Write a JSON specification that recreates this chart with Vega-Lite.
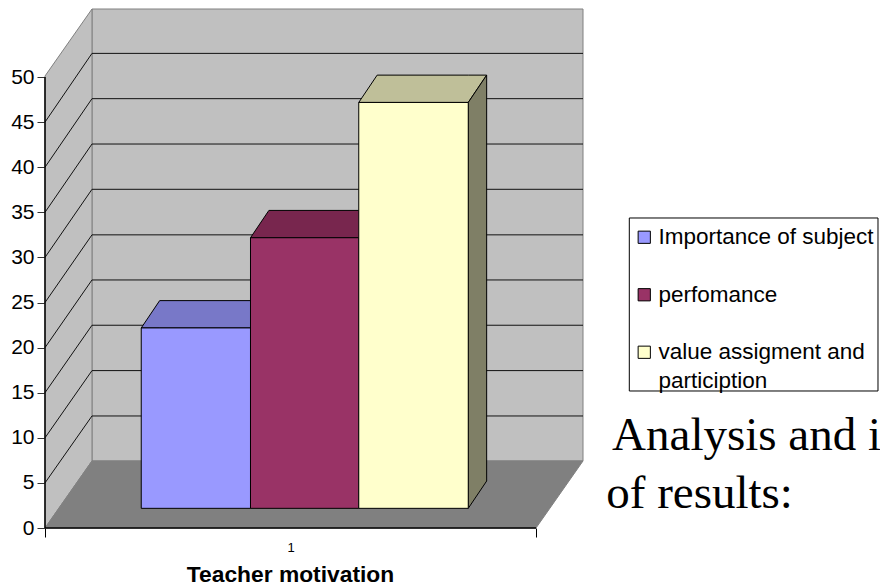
{
"$schema":"https://vega.github.io/schema/vega-lite/v6.json",
"width":538,"height":519,
"autosize":{"type":"none"},
"padding":{"left":45,"top":9,"right":297,"bottom":59},
"background":"white",
"config":{"view":{"stroke":null},"font":"Liberation Sans","style":{"guide-label":{"lineHeight":28.5}}},
"datasets":{
"walls":[
{"face":"Back wall","x":9.57,"y":57.54,"y2":7.43},{"face":"Back wall","x":109.57,"y":57.54,"y2":7.43},
{"face":"Left wall","x":0,"y":50.11,"y2":0},{"face":"Left wall","x":9.57,"y":57.54,"y2":7.43},
{"face":"Floor","x":0,"y":0,"y2":0},{"face":"Floor","x":9.57,"y":7.43,"y2":0},{"face":"Floor","x":100,"y":7.43,"y2":0},{"face":"Floor","x":109.57,"y":7.43,"y2":7.43}
],
"grid":[
{"level":5,"x":0,"y":5},{"level":5,"x":9.57,"y":12.42},{"level":5,"x":109.57,"y":12.42},
{"level":10,"x":0,"y":10},{"level":10,"x":9.57,"y":17.45},{"level":10,"x":109.57,"y":17.45},
{"level":15,"x":0,"y":15},{"level":15,"x":9.57,"y":22.48},{"level":15,"x":109.57,"y":22.48},
{"level":20,"x":0,"y":20},{"level":20,"x":9.57,"y":27.5},{"level":20,"x":109.57,"y":27.5},
{"level":25,"x":0,"y":25},{"level":25,"x":9.57,"y":32.5},{"level":25,"x":109.57,"y":32.5},
{"level":30,"x":0,"y":30},{"level":30,"x":9.57,"y":37.55},{"level":30,"x":109.57,"y":37.55},
{"level":35,"x":0,"y":35},{"level":35,"x":9.57,"y":42.57},{"level":35,"x":109.57,"y":42.57},
{"level":40,"x":0,"y":40},{"level":40,"x":9.57,"y":47.6},{"level":40,"x":109.57,"y":47.6},
{"level":45,"x":0,"y":45},{"level":45,"x":9.57,"y":52.62},{"level":45,"x":109.57,"y":52.62}
],
"faces":[
{"face":"Importance top","x":19.6,"y":22.18,"y2":22.18},{"face":"Importance top","x":23.35,"y":25.21,"y2":22.18},{"face":"Importance top","x":41.85,"y":25.21,"y2":22.18},{"face":"Importance top","x":45.6,"y":25.21,"y2":25.21},
{"face":"perfomance top","x":41.85,"y":32.18,"y2":32.18},{"face":"perfomance top","x":45.6,"y":35.21,"y2":32.18},{"face":"perfomance top","x":63.9,"y":35.21,"y2":32.18},{"face":"perfomance top","x":67.65,"y":35.21,"y2":35.21},
{"face":"value top","x":63.9,"y":47.18,"y2":47.18},{"face":"value top","x":67.65,"y":50.21,"y2":47.18},{"face":"value top","x":86.2,"y":50.21,"y2":47.18},{"face":"value top","x":89.95,"y":50.21,"y2":50.21},
{"face":"value side","x":86.2,"y":47.18,"y2":2.18},{"face":"value side","x":89.95,"y":50.21,"y2":5.21}
],
"fronts":[
{"face":"Importance of subject","x":19.6,"x2":41.85,"base":2.18,"top":22.18},
{"face":"perfomance","x":41.85,"x2":63.9,"base":2.18,"top":32.18},
{"face":"value assigment and particiption","x":63.9,"x2":86.2,"base":2.18,"top":47.18}
],
"edges":[
{"edge":"left","x":0,"x2":0,"y":0,"y2":50},
{"edge":"bottom","x":0,"x2":100,"y":0,"y2":0}
],
"legendbox":[{"x":119,"x2":169.65,"y":34.37,"y2":15.19}],
"notes":[
{"text":"Analysis and i","x":115.5,"y":8.65},
{"text":"of results:","x":114.3,"y":2.2}
]
},
"layer":[
{"data":{"name":"walls"},
 "mark":{"type":"area","orient":"vertical","stroke":"#808080","strokeWidth":1},
 "encoding":{
  "x":{"field":"x","type":"quantitative","scale":{"domain":[0,109.57],"nice":false,"zero":false},
   "axis":{"values":[0,50,100],"grid":false,"domain":false,"tickSize":9,"tickColor":"#000",
    "tickOpacity":{"condition":{"test":"datum.value==50","value":0},"value":1},
    "labelExpr":"datum.value==50?'1':''","labelFontSize":13,"labelColor":"#000","labelPadding":4,"labelFont":"Liberation Sans",
    "title":"Teacher motivation","titleFontSize":22.8,"titleFontWeight":"bold","titleColor":"#000","titleFont":"Liberation Sans","titleX":245,"titleY":53.7,"titleBaseline":"alphabetic","titleAlign":"center"}},
  "y":{"field":"y","type":"quantitative","stack":null,"scale":{"domain":[0,57.54],"nice":false,"zero":false},
   "axis":{"values":[0,5,10,15,20,25,30,35,40,45,50],"grid":false,"domain":false,"tickSize":8,"tickColor":"#333","labelFontSize":21,"labelColor":"#000","labelPadding":3,"labelFont":"Liberation Sans","title":null}},
  "y2":{"field":"y2"},
  "color":{"field":"face","type":"nominal",
   "scale":{"domain":["Importance of subject","perfomance","value assigment and particiption","Importance top","perfomance top","value top","value side","Back wall","Left wall","Floor"],
    "range":["#9999FF","#993366","#FFFFCC","#7878C8","#78264E","#BFBF99","#7F7F66","#C0C0C0","#C0C0C0","#808080"]},
   "legend":{"orient":"none","legendX":582,"legendY":211,"title":null,"values":["Importance of subject","perfomance","value assigment and particiption"],
    "symbolType":"square","symbolSize":150,"symbolStrokeColor":"#000","symbolStrokeWidth":1,"symbolOpacity":1,
    "labelFontSize":22.5,"labelColor":"#000","labelFont":"Liberation Sans","labelLimit":400,"labelOffset":3,
    "labelExpr":"datum.label=='value assigment and particiption'?['value assigment and','particiption']:datum.label",
    "rowPadding":34.5,"padding":6}}
 }},
{"data":{"name":"grid"},
 "mark":{"type":"line","color":"#111","strokeWidth":1},
 "encoding":{"x":{"field":"x","type":"quantitative"},"y":{"field":"y","type":"quantitative"},"detail":{"field":"level","type":"nominal"}}},
{"data":{"name":"faces"},
 "mark":{"type":"area","orient":"vertical","stroke":"#000","strokeWidth":1},
 "encoding":{"x":{"field":"x","type":"quantitative"},"y":{"field":"y","type":"quantitative","stack":null},"y2":{"field":"y2"},
  "color":{"field":"face","type":"nominal"}}},
{"data":{"name":"fronts"},
 "mark":{"type":"rect","stroke":"#000","strokeWidth":1},
 "encoding":{"x":{"field":"x","type":"quantitative"},"x2":{"field":"x2"},"y":{"field":"base","type":"quantitative"},"y2":{"field":"top"},
  "color":{"field":"face","type":"nominal"}}},
{"data":{"name":"edges"},
 "mark":{"type":"rule","color":"#000","strokeWidth":1.5},
 "encoding":{"x":{"field":"x","type":"quantitative"},"x2":{"field":"x2"},"y":{"field":"y","type":"quantitative"},"y2":{"field":"y2"}}},
{"data":{"name":"legendbox"},
 "mark":{"type":"rect","fill":"#fff","stroke":"#000","strokeWidth":1},
 "encoding":{"x":{"field":"x","type":"quantitative"},"x2":{"field":"x2"},"y":{"field":"y","type":"quantitative"},"y2":{"field":"y2"}}},
{"data":{"name":"notes"},
 "mark":{"type":"text","align":"left","baseline":"alphabetic","font":"Liberation Serif","fontSize":47,"color":"#000"},
 "encoding":{"x":{"field":"x","type":"quantitative"},"y":{"field":"y","type":"quantitative"},"text":{"field":"text"}}}
]
}
